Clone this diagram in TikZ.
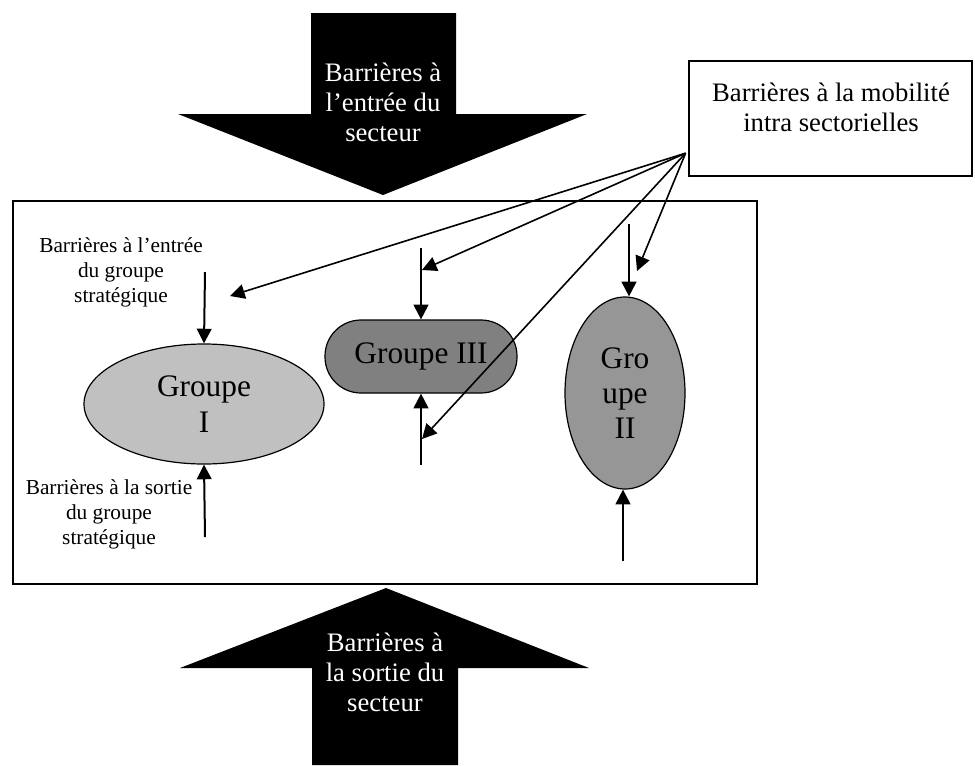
\documentclass[tikz,border=0pt]{standalone}
\usepackage{fontspec}
\setmainfont{Liberation Serif}
\usetikzlibrary{positioning, arrows.meta, shapes.geometric}
\definecolor{gris1}{HTML}{C0C0C0}
\definecolor{gris2}{HTML}{969696}
\definecolor{gris3}{HTML}{808080}

\begin{document}
\begin{tikzpicture}[x=0.75pt, y=-0.75pt, >={Triangle[length=11pt, width=11pt]},
  groupe/.style={draw, line width=0.9pt, font=\fontsize{23.5}{26.5}\selectfont, align=center, inner sep=0pt},
  petit/.style={font=\fontsize{16}{18.75}\selectfont, align=center},
  bloc/.style={font=\fontsize{20}{22.5}\selectfont, align=center, text=white},
  fleche/.style={->, line width=1.5pt},
  barriere/.style={->, line width=1.2pt}]

\useasboundingbox (0,0) rectangle (975,765);

\node[draw, line width=1.3pt, minimum width=558pt, minimum height=287.25pt] (secteur) at (385,392.5) {};

% grandes fleches
\fill (311,13) -- (456,13) -- (456,114) -- (587,114) -- (383,195) -- (178,114) -- (311,114) -- cycle;
\node[bloc] (entree) at (383,102) {Barrières à\\l’entrée du\\secteur};
\fill (312,765) -- (312,668) -- (180,668) -- (386,588) -- (589,668) -- (458,668) -- (458,765) -- cycle;
\node[bloc] (sortie) at (385,672) {Barrières à\\la sortie du\\secteur};

\node[groupe, ellipse, fill=gris1, minimum width=180pt, minimum height=90pt] (g1) at (204,404) {Groupe\\I};
\node[groupe, rectangle, rounded corners=27pt, fill=gris3, minimum width=144pt, minimum height=54.75pt] (g3) at (421,356.5) {Groupe III};
\node[groupe, ellipse, fill=gris2, minimum width=90pt, minimum height=144pt] (g2) at (625,393) {Gro\\upe\\II};

\node[petit] (lblentree) at (121,272) {Barrières à l’entrée\\du groupe\\stratégique};
\node[petit] (lblsortie) at (109,514) {Barrières à la sortie\\du groupe\\stratégique};

\coordinate (e1) at (205,272);
\coordinate (s1) at (205,537);
\coordinate (e3) at (421,248);
\coordinate (s3) at (421,465);
\coordinate (e2) at (629,224);
\coordinate (s2) at (623,561);
\draw[fleche] (e1) -- (g1.north);
\draw[fleche] (s1) -- (g1.south);
\draw[fleche] (e3) -- (g3.north);
\draw[fleche] (s3) -- (g3.south);
\draw[fleche] (e2) -- (e2 |- g2.north);
\draw[fleche] (s2) -- (s2 |- g2.south);

% mobilite
\node[draw, line width=1.1pt, minimum width=212.25pt, minimum height=86.25pt] (mob) at (830.5,118.5) {};
\node[bloc, text=black] (mobtxt) at (831,107) {Barrières à la mobilité\\intra sectorielles};

\coordinate (fan) at ([xshift=-2pt, yshift=-26pt]mob.west);
\coordinate (t1) at (230,296);
\coordinate (t2) at (422,270);
\coordinate (t3) at (422,439);
\coordinate (t4) at (637,271);
\foreach \t in {t1,t2,t3,t4}
  \draw[barriere] (fan) -- (\t);

\end{tikzpicture}
\end{document}
